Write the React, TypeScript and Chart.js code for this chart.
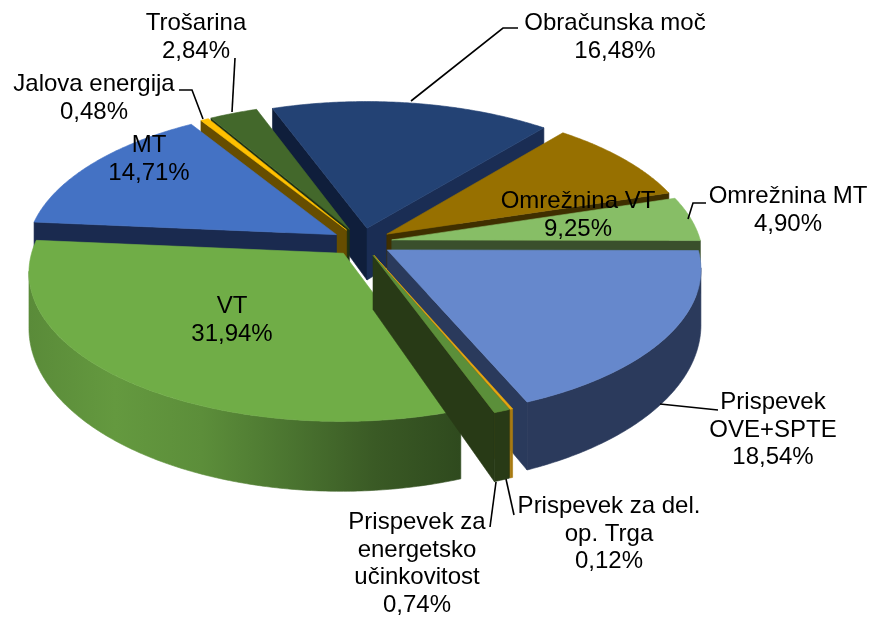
import React, { useEffect, useRef } from "react";
import { Chart, registerables } from "chart.js";

Chart.register(...registerables);

const categories = [
  "Obračunska moč",
  "Omrežnina VT",
  "Omrežnina MT",
  "Prispevek\nOVE+SPTE",
  "Prispevek za del.\nop. Trga",
  "Prispevek za\nenergetsko\nučinkovitost",
  "VT",
  "MT",
  "Jalova energija",
  "Trošarina",
];
const shares = [16.48, 9.25, 4.9, 18.54, 0.12, 0.74, 31.94, 14.71, 0.48, 2.84];

const topColors = ["#234274", "#977000", "#87BE66", "#6688CC", "#E8A80F", "#5B8F3A", "#70AD47", "#4472C4", "#FFC000", "#43682B"];
const startCutColors = ["#0F1E3B", "#3F2F00", "#3A4F2C", "#2A3A5C", "#9A6B0A", "#283A16", "#2F4A1E", "#1A2A4F", "#664D00", "#1F3114"];
const endCutColors = ["#1A2D54", "#3F2F00", "#3A4F2C", "#2A3A5C", "#9A6B0A", "#283A16", "#2F4A1E", "#1A2A4F", "#664D00", "#1F3114"];
const rimColors = [
  ["#1A2D54"],
  ["#5E4600"],
  ["#55774A"],
  ["#2B3A5C", "#2B3A5C"],
  ["#A87A10"],
  ["#283A16"],
  ["#5A8B39", "#64993F", "#5C8E3A", "#4B7530", "#3A5A25", "#2F4A1E"],
  ["#1A2A4F"],
  ["#664D00"],
  ["#1F3114"],
];

// label anchors: centre x and first baseline
const labelAnchors = [
  [615, 30], [578, 208], [788, 203], [773, 409], [609, 513],
  [417, 529], [232, 313], [149, 152], [94, 91], [196, 30],
];
const leaderLines = [
  [[411, 101], [503, 28], [518, 28]],
  [],
  [[688, 219], [693, 203], [706, 203]],
  [[660, 404], [718, 410]],
  [[506, 479], [514, 515]],
  [[496, 482], [490, 527]],
  [],
  [],
  [[179, 90], [192, 90], [203, 119]],
  [[235, 58], [232, 112]],
];

const ROTATION = -20;
const OFFSET = 22.5;
const RX = 309;
const RY = 145;
const PERSP = 0.12;
const DEPTH = 53;
const FONT = '24px "Liberation Sans", Arial, sans-serif';
const LINE_H = 27.6;

const pie3d = {
  id: "pie3d",
  beforeDatasetDraw(chart: any) {
    const ctx = chart.ctx;
    const arcs = chart.getDatasetMeta(0).data.map((arc: any, i: number) => ({ arc, i }));
    const mid = (a: any) => (a.startAngle + a.endAngle) / 2;
    arcs.sort((p: any, q: any) => Math.sin(mid(p.arc)) - Math.sin(mid(q.arc)));
    const rimMargin = Math.asin(PERSP);

    for (const { arc, i } of arcs) {
      const m = mid(arc);
      const d = (arc.options.offset || 0) / arc.outerRadius;
      const ax = Math.cos(m) * d;
      const ay = Math.sin(m) * d;
      const proj = (u: number, v: number, h: number) => {
        const w = 1 - PERSP * v;
        return [arc.x + (RX * u) / w, arc.y + (RY * v) / w + (h ? h / (w * w) : 0)];
      };
      const rimPt = (a: number, h: number) => proj(ax + Math.cos(a), ay + Math.sin(a), h);
      const fill = (pts: number[][], color: any) => {
        ctx.beginPath();
        pts.forEach((p, n) => (n ? ctx.lineTo(p[0], p[1]) : ctx.moveTo(p[0], p[1])));
        ctx.closePath();
        ctx.fillStyle = color;
        ctx.strokeStyle = color;
        ctx.lineWidth = 0.6;
        ctx.fill();
        ctx.stroke();
      };
      const samples = (a0: number, a1: number) => {
        const n = Math.max(2, Math.ceil((a1 - a0) / 0.01));
        const out: number[] = [];
        for (let k = 0; k <= n; k++) out.push(a0 + ((a1 - a0) * k) / n);
        return out;
      };

      const camV = 1 / PERSP;
      const faces = (a: number, sign: number) => {
        const nAng = a + (sign * Math.PI) / 2;
        return Math.cos(nAng) * (0 - ax) + Math.sin(nAng) * (camV - ay) > 0;
      };
      const cut = (a: number, color: string) =>
        fill([proj(ax, ay, 0), rimPt(a, 0), rimPt(a, DEPTH), proj(ax, ay, DEPTH)], color);
      if (faces(arc.startAngle, -1)) cut(arc.startAngle, startCutColors[i]);
      if (faces(arc.endAngle, 1)) cut(arc.endAngle, endCutColors[i]);

      for (const k of [-1, 0, 1]) {
        const lo = Math.max(arc.startAngle, 2 * Math.PI * k + rimMargin);
        const hi = Math.min(arc.endAngle, Math.PI + 2 * Math.PI * k - rimMargin);
        if (hi <= lo) continue;
        const as = samples(lo, hi);
        const top = as.map((a) => rimPt(a, 0));
        const bottom = as.map((a) => rimPt(a, DEPTH)).reverse();
        const xs = top.map((p) => p[0]);
        const stops = rimColors[i];
        let paint: any = stops[0];
        if (stops.length > 1) {
          const g = ctx.createLinearGradient(Math.min(...xs), 0, Math.max(...xs), 0);
          stops.forEach((c: string, n: number) => g.addColorStop(n / (stops.length - 1), c));
          paint = g;
        }
        fill([...top, ...bottom], paint);
      }

      fill([proj(ax, ay, 0), ...samples(arc.startAngle, arc.endAngle).map((a) => rimPt(a, 0))], topColors[i]);
    }
    return false;
  },
  afterDatasetsDraw(chart: any) {
    const ctx = chart.ctx;
    ctx.save();
    ctx.strokeStyle = "#000";
    ctx.lineWidth = 1.6;
    for (const line of leaderLines) {
      if (!line.length) continue;
      ctx.beginPath();
      line.forEach((p, n) => (n ? ctx.lineTo(p[0], p[1]) : ctx.moveTo(p[0], p[1])));
      ctx.stroke();
    }
    ctx.fillStyle = "#000";
    ctx.font = FONT;
    ctx.textAlign = "center";
    ctx.textBaseline = "alphabetic";
    categories.forEach((name, i) => {
      const lines = [...name.split("\n"), shares[i].toFixed(2).replace(".", ",") + "%"];
      lines.forEach((t, n) => ctx.fillText(t, labelAnchors[i][0], labelAnchors[i][1] + n * LINE_H));
    });
    ctx.restore();
  },
};

export default function App() {
  const ref = useRef<HTMLCanvasElement>(null);
  useEffect(() => {
    const chart = new Chart(ref.current as HTMLCanvasElement, {
      type: "pie",
      data: {
        labels: categories,
        datasets: [{ data: shares, backgroundColor: topColors, offset: OFFSET, borderWidth: 0 }],
      },
      options: {
        responsive: false,
        animation: false,
        rotation: ROTATION,
        layout: { padding: { right: 148, bottom: 135 } },
        plugins: { legend: { display: false }, tooltip: { enabled: false } },
      },
      plugins: [pie3d],
    } as any);
    return () => chart.destroy();
  }, []);
  return (
    <div style={{ position: "absolute", left: 0, top: 0, width: 872, height: 619, background: "#fff" }}>
      <canvas ref={ref} width={872} height={619} style={{ display: "block" }} />
    </div>
  );
}
